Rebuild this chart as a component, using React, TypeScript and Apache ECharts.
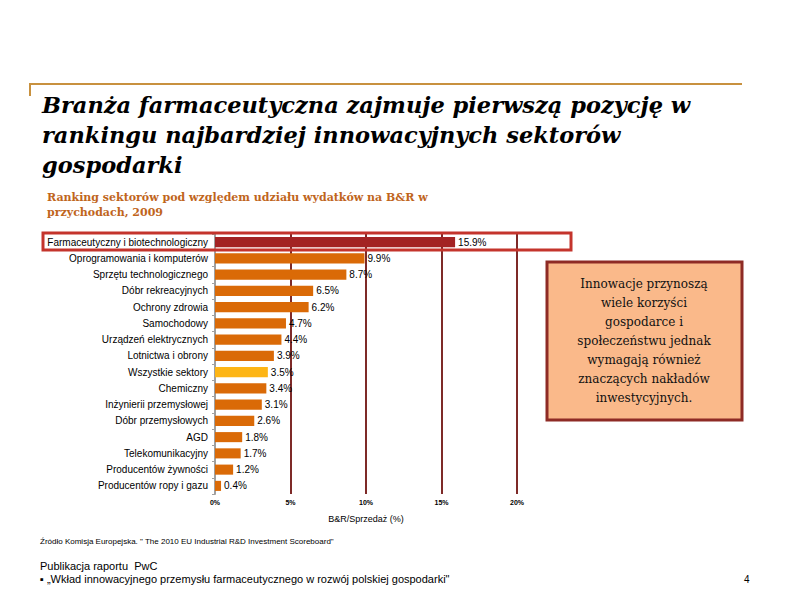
import React, { useEffect, useRef } from "react";
import * as echarts from "echarts";

// Sector names, top to bottom
const sectors = [
  "Farmaceutyczny i biotechnologiczny",
  "Oprogramowania i komputerów",
  "Sprzętu technologicznego",
  "Dóbr rekreacyjnych",
  "Ochrony zdrowia",
  "Samochodowy",
  "Urządzeń elektrycznych",
  "Lotnictwa i obrony",
  "Wszystkie sektory",
  "Chemiczny",
  "Inżynierii przemysłowej",
  "Dóbr przemysłowych",
  "AGD",
  "Telekomunikacyjny",
  "Producentów żywności",
  "Producentów ropy i gazu",
];

// R&D spend as a share of revenue, 2009 (%)
const rdShare = [15.9, 9.9, 8.7, 6.5, 6.2, 4.7, 4.4, 3.9, 3.5, 3.4, 3.1, 2.6, 1.8, 1.7, 1.2, 0.4];

const titleLines = [
  "Branża farmaceutyczna zajmuje pierwszą pozycję w",
  "rankingu najbardziej innowacyjnych sektorów",
  "gospodarki",
];

const subtitleLines = [
  "Ranking sektorów pod względem udziału wydatków na B&R w",
  "przychodach, 2009",
];

const calloutLines = [
  "Innowacje przynoszą",
  "wiele korzyści",
  "gospodarce i",
  "społeczeństwu jednak",
  "wymagają również",
  "znaczących nakładów",
  "inwestycyjnych.",
];

const COLOR_HIGHLIGHT = "#A32323";
const COLOR_BAR = "#DA6A07";
const COLOR_TOTAL = "#FDB515";

export default function App() {
  const ref = useRef<HTMLDivElement>(null);

  useEffect(() => {
    if (!ref.current) return;
    const chart = echarts.init(ref.current, undefined, { renderer: "svg" });

    const barData = rdShare.map((v, i) => ({
      value: v,
      itemStyle: {
        color: i === 0 ? COLOR_HIGHLIGHT : sectors[i] === "Wszystkie sektory" ? COLOR_TOTAL : COLOR_BAR,
      },
    }));

    const sans = "'Liberation Sans', Arial, sans-serif";
    const serif = "'DejaVu Serif', Georgia, serif";

    chart.setOption({
      animation: false,
      backgroundColor: "#ffffff",
      grid: { left: 215, top: 234, width: 302, height: 260, containLabel: false },
      xAxis: {
        type: "value",
        min: 0,
        max: 20,
        interval: 5,
        name: "B&R/Sprzedaż (%)",
        nameLocation: "middle",
        nameGap: 20,
        nameTextStyle: { fontFamily: sans, fontSize: 9, color: "#000" },
        axisLine: { show: false },
        axisTick: { show: false },
        axisLabel: {
          formatter: "{value}%",
          fontFamily: sans,
          fontSize: 7,
          fontWeight: "bold",
          color: "#000",
          margin: 5,
        },
        splitLine: { show: true, showMinLine: false, lineStyle: { color: "#7E2A28", width: 2 } },
      },
      yAxis: {
        type: "category",
        data: sectors,
        inverse: true,
        axisLine: { show: true, lineStyle: { color: "#A0A0A0", width: 2 } },
        axisTick: { show: true, length: 3, lineStyle: { color: "#A0A0A0", width: 1 } },
        axisLabel: { fontFamily: sans, fontSize: 10, color: "#000", margin: 7 },
      },
      series: [
        {
          type: "bar",
          data: barData,
          barCategoryGap: "38%",
          label: {
            show: true,
            position: "right",
            distance: 3,
            formatter: (p: any) => p.value.toFixed(1) + "%",
            fontFamily: sans,
            fontSize: 10,
            color: "#000",
          },
        },
      ],
      graphic: [
        // top rule with a short left drop
        {
          type: "polyline",
          shape: { points: [[30, 96], [30, 84], [742, 84]] },
          style: { stroke: "#C8913F", lineWidth: 2, fill: "none" },
        },
        ...titleLines.map((t, i) => ({
          type: "text",
          left: 42,
          top: 93 + i * 30,
          style: {
            text: t,
            font: `italic bold 22.5px ${serif}`,
            fill: "#000",
          },
        })),
        ...subtitleLines.map((t, i) => ({
          type: "text",
          left: 47,
          top: 192 + i * 15,
          style: {
            text: t,
            font: `bold 11px ${serif}`,
            fill: "#C0651C",
          },
        })),
        // highlight frame around the top row
        {
          type: "rect",
          shape: { x: 43, y: 233, width: 528, height: 17 },
          style: { stroke: "#C4342C", lineWidth: 3, fill: "none" },
          z: 100,
        },
        // callout box
        {
          type: "rect",
          shape: { x: 547, y: 262, width: 195, height: 158 },
          style: { stroke: "#8E2B25", lineWidth: 3, fill: "#FAB98A" },
          z: 100,
        },
        ...calloutLines.map((t, i) => ({
          type: "text",
          x: 644,
          y: 284 + i * 19,
          z: 101,
          style: {
            text: t,
            font: `12px ${serif}`,
            fill: "#111",
            textAlign: "center",
            textVerticalAlign: "middle",
          },
        })),
        {
          type: "text",
          left: 40,
          top: 537,
          style: {
            text: 'Źródło Komisja Europejska. " The 2010 EU Industrial R&D Investment Scoreboard"',
            font: `8px ${sans}`,
            fill: "#000",
          },
        },
        {
          type: "text",
          left: 40,
          top: 560,
          style: { text: "Publikacja raportu  PwC", font: `11px ${sans}`, fill: "#000" },
        },
        {
          type: "text",
          left: 40,
          top: 573,
          style: {
            text: "▪ „Wkład innowacyjnego przemysłu farmaceutycznego w rozwój polskiej gospodarki\"",
            font: `11px ${sans}`,
            fill: "#000",
          },
        },
        {
          type: "text",
          left: 744,
          top: 574,
          style: { text: "4", font: `10px ${sans}`, fill: "#000" },
        },
      ],
    });

    return () => chart.dispose();
  }, []);

  return (
    <div
      ref={ref}
      style={{ position: "fixed", left: 0, top: 0, width: 792, height: 612, background: "#fff" }}
    />
  );
}
